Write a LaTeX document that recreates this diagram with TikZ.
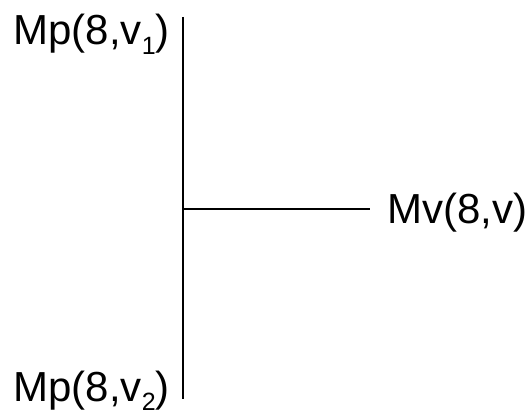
\documentclass[tikz,border=0pt]{standalone}
\usepackage{fontspec}
\setmainfont{Liberation Sans}
\usetikzlibrary{positioning}

\newcommand{\lowsub}[1]{\raisebox{-0.22em}{\fontsize{25}{25}\selectfont #1}}

\begin{document}
\begin{tikzpicture}[
  x=1pt, y=-1pt,
  lbl/.style={font=\fontsize{42}{44}\selectfont, inner sep=0pt},
  wire/.style={line width=1.1pt, black}
]
\useasboundingbox (0,0) rectangle (529,419);
\coordinate (top) at (183,17);
\coordinate (bot) at (183,399);
\coordinate (mid) at (183,209);
\coordinate (tip) at (370,209);

\node[lbl, anchor=base east] (mp1) at (170,45) {Mp(8,v\lowsub{1})};
\node[lbl, anchor=base east] (mp2) at (170,401) {Mp(8,v\lowsub{2})};
\node[lbl, anchor=base west] (mv) at (387,224) {Mv(8,v)};

\draw[wire] (top) -- (bot);
\draw[wire] (mid) -- (tip);
\end{tikzpicture}
\end{document}
